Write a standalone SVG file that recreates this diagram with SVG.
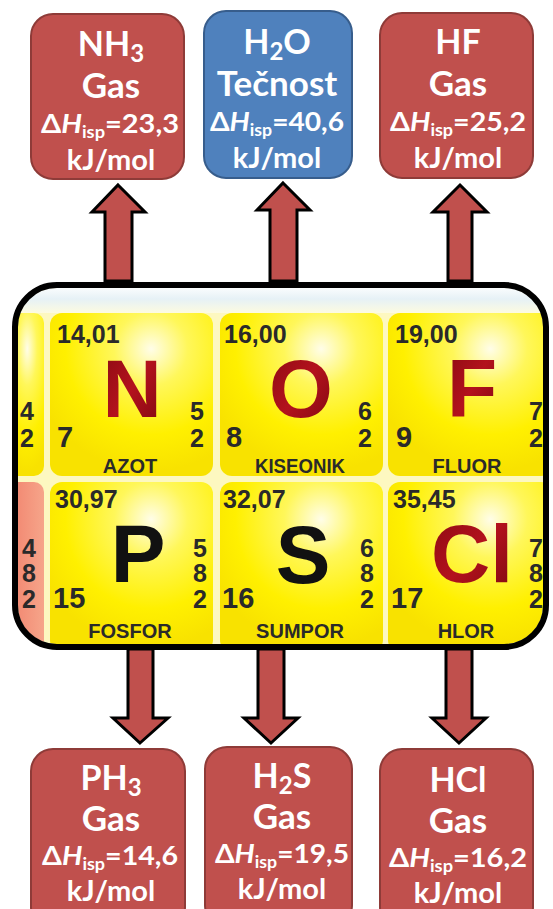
<svg xmlns="http://www.w3.org/2000/svg" width="553" height="909" viewBox="0 0 553 909">
<defs>
<style>
.box-red{fill:#c0504d;stroke:#8e3b38;stroke-width:2}
.box-blue{fill:#4f81bd;stroke:#375d8c;stroke-width:2}
.bt{font-family:Lato,"Open Sans",sans-serif;font-weight:700;fill:#ffffff;text-anchor:middle}
.t1{font-size:34px}
.t2{font-size:35px}
.t3{font-size:27px}
.t4{font-size:29px}
.arrow{fill:#c0504d;stroke:#000000;stroke-width:3;stroke-linejoin:miter}
.num{font-family:"Liberation Sans",Arial,sans-serif;font-weight:700;fill:#2a2a2a}
.w{font-size:25px}
.z{font-size:29px}
.sh{font-size:25px;text-anchor:middle}
.nm{font-size:20px;text-anchor:middle}
.sym{font-family:"Liberation Sans",Arial,sans-serif;font-weight:700;font-size:82px;text-anchor:middle}
.red{fill:url(#redg)}
.blk{fill:#111111}
</style>
<radialGradient id="tileg" cx="0.62" cy="0.22" r="0.75">
<stop offset="0" stop-color="#fffde8"/>
<stop offset="0.3" stop-color="#fff75a"/>
<stop offset="0.7" stop-color="#fff000"/>
<stop offset="1" stop-color="#f8e200"/>
</radialGradient>
<linearGradient id="pinkg" x1="0" y1="0" x2="1" y2="0">
<stop offset="0" stop-color="#f07a66"/>
<stop offset="1" stop-color="#f6a58a"/>
</linearGradient>
<linearGradient id="redg" x1="0" y1="0" x2="1" y2="1">
<stop offset="0" stop-color="#8a0a12"/>
<stop offset="0.5" stop-color="#b3121d"/>
<stop offset="1" stop-color="#7d0810"/>
</linearGradient>
<linearGradient id="topg" x1="0" y1="0" x2="0" y2="1">
<stop offset="0" stop-color="#ffffff"/>
<stop offset="0.5" stop-color="#e6f1f6"/>
<stop offset="1" stop-color="#fdfbe0"/>
</linearGradient>
<clipPath id="frameclip">
<rect x="18" y="288" width="525" height="356" rx="38"/>
</clipPath>
</defs>
<rect width="553" height="909" fill="#ffffff"/>

<g id="table">
<g clip-path="url(#frameclip)">
<rect x="0" y="280" width="553" height="380" fill="#fdf8c0"/>
<rect x="0" y="285" width="553" height="28" fill="url(#topg)"/>
<rect x="0" y="313" width="44" height="163" rx="10" fill="url(#tileg)"/>
<rect x="50" y="313" width="163" height="163" rx="12" fill="url(#tileg)"/>
<rect x="220" y="313" width="163" height="163" rx="12" fill="url(#tileg)"/>
<rect x="388" y="313" width="165" height="163" rx="12" fill="url(#tileg)"/>
<rect x="0" y="482" width="44" height="170" rx="10" fill="url(#pinkg)"/>
<rect x="50" y="482" width="163" height="170" rx="12" fill="url(#tileg)"/>
<rect x="220" y="482" width="163" height="170" rx="12" fill="url(#tileg)"/>
<rect x="388" y="482" width="165" height="170" rx="12" fill="url(#tileg)"/>
</g>
<rect x="15" y="285" width="531" height="362" rx="42" fill="none" stroke="#000000" stroke-width="6"/>
</g>

<g id="el-N">
<text class="num w" x="57" y="343">14,01</text>
<text class="sym red" x="132" y="417">N</text>
<text class="num z" x="57" y="447">7</text>
<text class="num sh" x="197" y="420">5</text>
<text class="num sh" x="197" y="447">2</text>
<text class="num nm" x="130" y="473">AZOT</text>
</g>
<g id="el-O">
<text class="num w" x="224" y="343">16,00</text>
<text class="sym red" x="301" y="417">O</text>
<text class="num z" x="226" y="447">8</text>
<text class="num sh" x="365" y="420">6</text>
<text class="num sh" x="365" y="447">2</text>
<text class="num nm" x="300" y="473" textLength="90" lengthAdjust="spacingAndGlyphs">KISEONIK</text>
</g>
<g id="el-F">
<text class="num w" x="395" y="343">19,00</text>
<text class="sym red" x="472" y="417">F</text>
<text class="num z" x="396" y="447">9</text>
<text class="num sh" x="536" y="420">7</text>
<text class="num sh" x="536" y="447">2</text>
<text class="num nm" x="467" y="473">FLUOR</text>
</g>
<g id="el-left1">
<text class="num sh" x="27" y="420">4</text>
<text class="num sh" x="27" y="447">2</text>
</g>
<g id="el-P">
<text class="num w" x="55" y="508">30,97</text>
<text class="sym blk" x="138" y="582">P</text>
<text class="num z" x="53" y="608">15</text>
<text class="num sh" x="200" y="557">5</text>
<text class="num sh" x="200" y="582">8</text>
<text class="num sh" x="200" y="608">2</text>
<text class="num nm" x="130" y="638">FOSFOR</text>
</g>
<g id="el-S">
<text class="num w" x="223" y="508">32,07</text>
<text class="sym blk" x="303" y="583">S</text>
<text class="num z" x="222" y="608">16</text>
<text class="num sh" x="367" y="557">6</text>
<text class="num sh" x="367" y="582">8</text>
<text class="num sh" x="367" y="608">2</text>
<text class="num nm" x="300" y="638">SUMPOR</text>
</g>
<g id="el-Cl">
<text class="num w" x="393" y="508">35,45</text>
<text class="sym red" x="472" y="582">Cl</text>
<text class="num z" x="391" y="608">17</text>
<text class="num sh" x="536" y="557">7</text>
<text class="num sh" x="536" y="582">8</text>
<text class="num sh" x="536" y="608">2</text>
<text class="num nm" x="466" y="638">HLOR</text>
</g>
<g id="el-left2">
<text class="num sh" x="29" y="557">4</text>
<text class="num sh" x="29" y="582">8</text>
<text class="num sh" x="29" y="608">2</text>
</g>

<g id="connectors">
<path class="arrow" d="M118,185 L145,212 L132,212 L132,281 L105,281 L105,212 L92,212 Z"/>
<path class="arrow" d="M283,183 L310,210 L297,210 L297,281 L270,281 L270,210 L257,210 Z"/>
<path class="arrow" d="M460,185 L487,212 L472,212 L472,281 L448,281 L448,212 L433,212 Z"/>
<path class="arrow" d="M140,743 L168,718 L153,718 L153,649 L128,649 L128,718 L113,718 Z"/>
<path class="arrow" d="M271,743 L298,718 L284,718 L284,649 L258,649 L258,718 L244,718 Z"/>
<path class="arrow" d="M459,743 L486,718 L472,718 L472,649 L446,649 L446,718 L432,718 Z"/>
</g>

<g id="box-NH3">
<rect class="box-red" x="31" y="14" width="153" height="165" rx="22"/>
<text class="bt t1" x="111" y="56">NH<tspan font-size="24" dy="6">3</tspan></text>
<text class="bt t2" x="111" y="98">Gas</text>
<text class="bt t3" x="110" y="133" textLength="138" lengthAdjust="spacingAndGlyphs">Δ<tspan font-style="italic">H</tspan><tspan font-size="17" dy="5">isp</tspan><tspan dy="-5">=23,3</tspan></text>
<text class="bt t4" x="111" y="170">kJ/mol</text>
</g>
<g id="box-H2O">
<rect class="box-blue" x="204" y="11" width="148" height="167" rx="22"/>
<text class="bt t1" x="277" y="54">H<tspan font-size="24" dy="6">2</tspan><tspan dy="-6">O</tspan></text>
<text class="bt t2" x="277" y="96">Tečnost</text>
<text class="bt t3" x="277" y="131" textLength="134" lengthAdjust="spacingAndGlyphs">Δ<tspan font-style="italic">H</tspan><tspan font-size="17" dy="5">isp</tspan><tspan dy="-5">=40,6</tspan></text>
<text class="bt t4" x="277" y="168">kJ/mol</text>
</g>
<g id="box-HF">
<rect class="box-red" x="380" y="13" width="153" height="165" rx="22"/>
<text class="bt t1" x="458" y="54">HF</text>
<text class="bt t2" x="458" y="96">Gas</text>
<text class="bt t3" x="458" y="131" textLength="136" lengthAdjust="spacingAndGlyphs">Δ<tspan font-style="italic">H</tspan><tspan font-size="17" dy="5">isp</tspan><tspan dy="-5">=25,2</tspan></text>
<text class="bt t4" x="458" y="168">kJ/mol</text>
</g>
<g id="box-PH3">
<rect class="box-red" x="31" y="749" width="154" height="180" rx="22"/>
<text class="bt t1" x="111" y="790">PH<tspan font-size="24" dy="6">3</tspan></text>
<text class="bt t2" x="111" y="831">Gas</text>
<text class="bt t3" x="110" y="865" textLength="136" lengthAdjust="spacingAndGlyphs">Δ<tspan font-style="italic">H</tspan><tspan font-size="17" dy="5">isp</tspan><tspan dy="-5">=14,6</tspan></text>
<text class="bt t4" x="111" y="901">kJ/mol</text>
</g>
<g id="box-H2S">
<rect class="box-red" x="205" y="747" width="147" height="180" rx="22"/>
<text class="bt t1" x="282" y="788">H<tspan font-size="24" dy="6">2</tspan><tspan dy="-6">S</tspan></text>
<text class="bt t2" x="282" y="829">Gas</text>
<text class="bt t3" x="282" y="863" textLength="134" lengthAdjust="spacingAndGlyphs">Δ<tspan font-style="italic">H</tspan><tspan font-size="17" dy="5">isp</tspan><tspan dy="-5">=19,5</tspan></text>
<text class="bt t4" x="282" y="899">kJ/mol</text>
</g>
<g id="box-HCl">
<rect class="box-red" x="380" y="749" width="153" height="180" rx="22"/>
<text class="bt t1" x="458" y="792">HCl</text>
<text class="bt t2" x="458" y="833">Gas</text>
<text class="bt t3" x="458" y="867" textLength="138" lengthAdjust="spacingAndGlyphs">Δ<tspan font-style="italic">H</tspan><tspan font-size="17" dy="5">isp</tspan><tspan dy="-5">=16,2</tspan></text>
<text class="bt t4" x="458" y="903">kJ/mol</text>
</g>
</svg>
